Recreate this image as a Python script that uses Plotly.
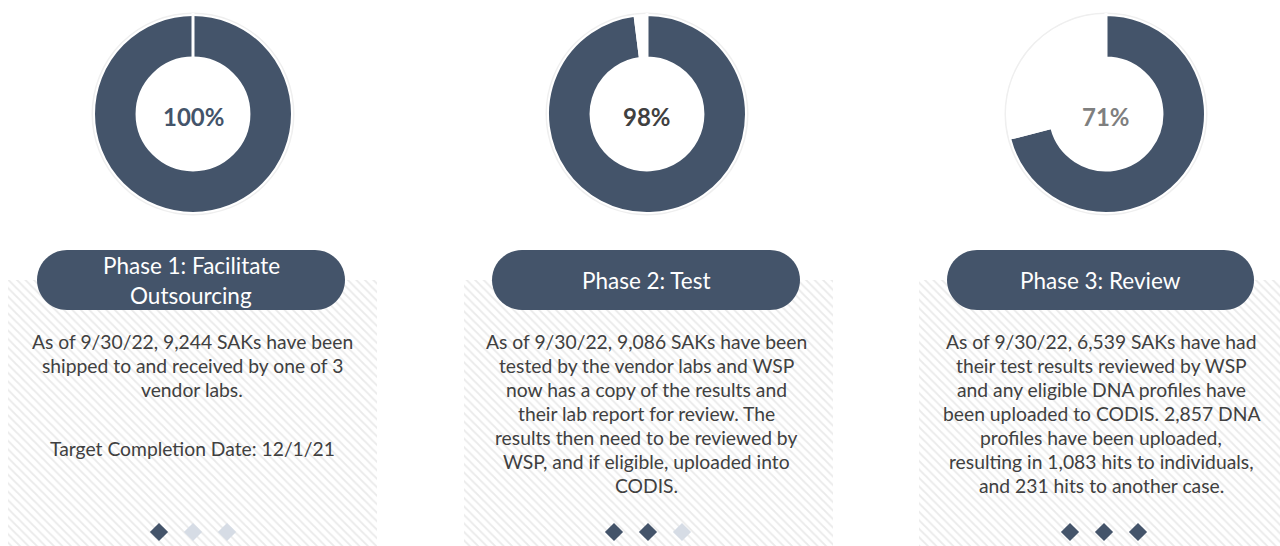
import plotly.graph_objects as go

# ---------------- data ----------------
phase_titles = [["Phase 1: Facilitate", "Outsourcing"], ["Phase 2: Test"], ["Phase 3: Review"]]
pct_complete = [100, 98, 71]
pct_labels = ["100%", "98%", "71%"]
body_lines = [
    ["As of 9/30/22, 9,244 SAKs have been",
     "shipped to and received by one of 3",
     "vendor labs."],
    ["As of 9/30/22, 9,086 SAKs have been",
     "tested by the vendor labs and WSP",
     "now has a copy of the results and",
     "their lab report for review. The",
     "results then need to be reviewed by",
     "WSP, and if eligible, uploaded into",
     "CODIS."],
    ["As of 9/30/22, 6,539 SAKs have had",
     "their test results reviewed by WSP",
     "and any eligible DNA profiles have",
     "been uploaded to CODIS. 2,857 DNA",
     "profiles have been uploaded,",
     "resulting in 1,083 hits to individuals,",
     "and 231 hits to another case."],
]
target_lines = ["Target Completion Date: 12/1/21", "", ""]
active_step = [1, 2, 3]
total_steps = 3

# ---------------- style / layout ----------------
W, H = 1280, 546
DARK = "#44546A"
LIGHT = "#D6DCE5"
TEXT = "#404040"
pct_colors = ["#44546A", "#404040", "#7F7F7F"]
FONT = "Lato"

donut_cx = [193, 647, 1106]
donut_cy = 114
R_OUT = 99
HOLE = 0.57
text_cx = [192, 646, 1101]
pill_x = [(37, 345), (492, 800), (947, 1254)]
pill_y = (250, 310)
hatch_x = [(8, 377), (464, 833), (919, 1290)]
hatch_top = 280
body_y0 = 341
body_dy = 24
diam_cx = [193, 648, 1104]
diam_dx = 34
diam_y = 532

fig = go.Figure()
shapes = []
annotations = []

for i in range(3):
    # hatched background panel
    x0, x1 = hatch_x[i]
    fig.add_trace(go.Scatter(
        x=[x0, x1, x1, x0, x0], y=[hatch_top, hatch_top, H + 5, H + 5, hatch_top],
        fill="toself", mode="none", hoverinfo="skip", showlegend=False,
        fillcolor="white",
        fillpattern=dict(shape="\\", fgcolor="#EAEAEA", bgcolor="white",
                         size=6, solidity=0.3, fillmode="replace"),
    ))

for i in range(3):
    # step diamonds
    xs = [diam_cx[i] + (k - 1) * diam_dx for k in range(total_steps)]
    cols = [DARK if k < active_step[i] else LIGHT for k in range(total_steps)]
    fig.add_trace(go.Scatter(
        x=xs, y=[diam_y] * total_steps, mode="markers", hoverinfo="skip",
        showlegend=False,
        marker=dict(symbol="diamond", size=14, color=cols, line=dict(width=0)),
    ))

for i in range(3):
    cx = donut_cx[i]
    # donut
    fig.add_trace(go.Pie(
        values=[pct_complete[i], 100 - pct_complete[i]],
        labels=["Complete", "Remaining"],
        hole=HOLE, sort=False, direction="clockwise", rotation=0,
        marker=dict(colors=[DARK, "white"], line=dict(color="white", width=2)),
        textinfo="none", hoverinfo="skip", showlegend=False,
        domain=dict(x=[(cx - R_OUT) / W, (cx + R_OUT) / W],
                    y=[(H - donut_cy - R_OUT) / H, (H - donut_cy + R_OUT) / H]),
    ))
    # faint shadow ring
    shapes.append(dict(type="circle", xref="x", yref="y", layer="below",
                       x0=cx - R_OUT - 1.5, x1=cx + R_OUT + 1.5,
                       y0=donut_cy - R_OUT - 1.5, y1=donut_cy + R_OUT + 1.5,
                       line=dict(color="#EFEFEF", width=2), fillcolor="rgba(0,0,0,0)"))
    # white gap at start angle
    shapes.append(dict(type="line", xref="x", yref="y", layer="above",
                       x0=cx, x1=cx, y0=donut_cy - R_OUT - 2, y1=donut_cy - R_OUT * HOLE + 1,
                       line=dict(color="white", width=3)))
    annotations.append(dict(x=cx, y=donut_cy + 2, xref="x", yref="y", text=f"<b>{pct_labels[i]}</b>",
                            showarrow=False, font=dict(family=FONT, size=24, color=pct_colors[i])))

    # pill header
    px0, px1 = pill_x[i]
    py0, py1 = pill_y
    r = (py1 - py0) / 2
    ym = (py0 + py1) / 2
    k = 0.5523 * r
    path = (f"M {px0 + r},{py0} L {px1 - r},{py0} "
            f"C {px1 - r + k},{py0} {px1},{ym - k} {px1},{ym} "
            f"C {px1},{ym + k} {px1 - r + k},{py1} {px1 - r},{py1} "
            f"L {px0 + r},{py1} "
            f"C {px0 + r - k},{py1} {px0},{ym + k} {px0},{ym} "
            f"C {px0},{ym - k} {px0 + r - k},{py0} {px0 + r},{py0} Z")
    shapes.append(dict(type="path", xref="x", yref="y", layer="above", path=path,
                       fillcolor=DARK, line=dict(width=0)))
    tl = phase_titles[i]
    n = len(tl)
    for j, line in enumerate(tl):
        yy = ym + (j - (n - 1) / 2) * 30
        annotations.append(dict(x=(px0 + px1) / 2, y=yy, xref="x", yref="y", text=line,
                                showarrow=False, font=dict(family=FONT, size=22.5, color="white")))

    # body text
    for j, line in enumerate(body_lines[i]):
        annotations.append(dict(x=text_cx[i], y=body_y0 + j * body_dy, xref="x", yref="y",
                                text=line, showarrow=False,
                                font=dict(family=FONT, size=19.3, color=TEXT)))
    if target_lines[i]:
        annotations.append(dict(x=text_cx[i], y=448, xref="x", yref="y",
                                text=target_lines[i], showarrow=False,
                                font=dict(family=FONT, size=19.3, color=TEXT)))

fig.update_layout(
    width=W, height=H, margin=dict(l=0, r=0, t=0, b=0),
    paper_bgcolor="white", plot_bgcolor="white",
    xaxis=dict(range=[0, W], visible=False, fixedrange=True, domain=[0, 1]),
    yaxis=dict(range=[H, 0], visible=False, fixedrange=True, domain=[0, 1]),
    shapes=shapes, annotations=annotations, showlegend=False,
)

fig.write_html("out.html", config={"displayModeBar": False},
               post_script="document.body.style.margin='0';document.body.style.overflow='hidden';")
